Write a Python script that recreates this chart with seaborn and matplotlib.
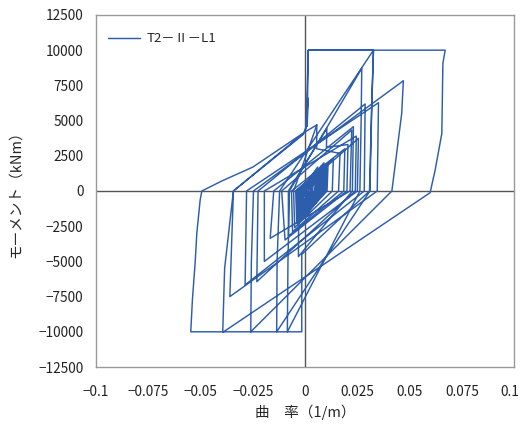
import numpy as np
import pandas as pd
import seaborn as sns
import matplotlib.pyplot as plt
import matplotlib.transforms as mtransforms

# curvature (1/m) and moment (kNm), read off the picture vertex by vertex
# dense small cycles round the origin
curv_small = [0.0, 0.002, 0.0017, -0.0005, -0.0004, 0.003, 0.0026, -0.001, -0.0008, 0.0035,
              0.003, -0.001, -0.0009, 0.004, 0.0036, -0.0015, -0.0012, 0.005, 0.0045, -0.0015,
              -0.0013, 0.0055, 0.005, -0.002, -0.0018, 0.006, 0.0055, -0.002, -0.0019, 0.0065,
              0.006, -0.0025, -0.0022, 0.007, 0.0066, -0.0025, -0.0023, 0.0075, 0.007, -0.003,
              -0.0027, 0.008, 0.0076, -0.003, -0.0028, 0.0085, 0.008, -0.0035, -0.0032, 0.009,
              0.0086, -0.0035, -0.0033, 0.0095, 0.009, -0.004, -0.0037, 0.010, 0.0096, -0.004,
              -0.0036, 0.0098, 0.0094, -0.0038, -0.0034, 0.0092, 0.0088, -0.0032, -0.003, 0.0088,
              0.0084, -0.003, -0.0028, 0.0102, 0.0097, -0.0036, -0.0033, 0.0075, 0.0071, -0.0025,
              -0.0022, 0.006, 0.0056, -0.002, -0.0018, 0.0085, 0.008, -0.001, -0.0008, 0.010,
              0.0096, -0.0025, -0.0022, 0.0078, 0.0074, -0.0035, -0.003, 0.0095, 0.009, -0.002,
              -0.0018, 0.007, 0.0065, 0.001, 0.0012, 0.0105, 0.010, 0.0, 0.0003, 0.009,
              0.0086, -0.003, -0.0027]
mom_small = [0, 400, 0, -400, 0, 600, 0, -700, 0, 800,
             0, -900, 0, 900, 0, -1000, 0, 1000, 0, -1100,
             0, 1100, 0, -1200, 0, 1200, 0, -1300, 0, 1300,
             0, -1400, 0, 1350, 0, -1500, 0, 1400, 0, -1550,
             0, 1500, 0, -1650, 0, 1550, 0, -1700, 0, 1650,
             0, -1800, 0, 1700, 0, -1850, 0, 1800, 0, -1950,
             0, 1600, 0, -1700, 0, 1750, 0, -2000, 0, 1300,
             0, -1400, 0, 1900, 0, -2100, 0, 1500, 0, -1600,
             0, 1700, 0, -1900, 0, 1900, 0, -1600, 0, 1500,
             0, -2000, 0, 1800, 0, -1300, 0, 1200, 0, -1000,
             0, 900, 0, -1500, 0, 1600, 0, -1800, 0, 2000,
             0, -2200, 0]

# medium cycles
curv_mid = [-0.0045, 0.011, 0.0105, -0.004, -0.0045, 0.0135, 0.013, -0.005, -0.0055,
            0.0056, 0.0055, 0.0167, 0.016, -0.006, -0.0065, 0.019, 0.0185, -0.008, -0.008,
            0.0104, 0.0102, 0.0205, 0.020, -0.0096, -0.0112, 0.0223, 0.0215, -0.0167, -0.015,
            0.0231, 0.0226, -0.0032, -0.0030, 0.0255, 0.0250, -0.0195, -0.0195,
            0.0245, 0.0240, -0.0231, -0.0225, 0.0287, 0.0283, -0.0287, -0.0280,
            0.0351, 0.0345, -0.036, -0.0343]
mom_mid = [0, 2000, 0, -2300, 0, 2300, 0, -2600, 0,
           4690, 3000, 2670, 0, -2900, 0, 3000, 0, -3200, 0,
           4450, 3100, 3300, 0, -3480, 0, 4330, 0, -3360, 0,
           4570, 0, -4660, 0, 3740, 0, -5000, 0,
           3900, 0, -6440, 0, 6180, 0, -6670, 0,
           6270, 0, -7500, 0]

# large cycles reaching the +-10000 plateaus
curv_big = [-0.001, 0.0005, 0.0014, 0.0010, 0.0015, 0.0327, 0.0319, 0.0308, -0.0016, -0.0016,
            -0.0085, -0.0082, -0.0075, 0.0271, 0.0268, 0.0262, -0.0085, -0.0136, -0.0134, -0.0122,
            0.0327, 0.0319, 0.031, -0.0136, -0.026, -0.0257, -0.0247, 0.047, 0.0462, 0.0415,
            -0.026, -0.0394, -0.0385, -0.0343, 0.0, 0.0005, 0.0015, 0.067, 0.0659, 0.0654,
            0.0622, 0.0598, -0.039, -0.0547, -0.0539, -0.0526, -0.0518, -0.0502, -0.0494,
            -0.040, -0.025, 0.0, 0.0056]
mom_big = [4000, 4550, 6600, 4600, 10000, 10000, 6460, 0, -4500, -10000,
           -10000, -5000, 0, 8710, 5000, 0, -10000, -10000, -5000, 0,
           10000, 6000, 0, -10000, -10000, -5000, 0, 7830, 5500, 0,
           -10000, -10000, -5500, 0, 4200, 4550, 10000, 10000, 9060, 4090,
           1490, -120, -10000, -10000, -7700, -5100, -3000, -640, 0,
           700, 1700, 4200, 4690]

curvature = curv_small + curv_mid + curv_big
moment = mom_small + mom_mid + mom_big

df = pd.DataFrame({'curvature': curvature, 'moment': moment, 'series': 'T2－Ⅱ－L1'})

sns.set_style('white')
plt.rcParams['font.family'] = ['Noto Sans CJK JP', 'DejaVu Sans']

fig = plt.figure(figsize=(5.22, 4.28), dpi=100)
ax = fig.add_axes([0.184, 0.1425, 0.801, 0.8225])

sns.lineplot(data=df, x='curvature', y='moment', hue='series', sort=False,
             estimator=None, palette=['#2d5eac'], linewidth=1.05, ax=ax)

ax.axhline(0, color='#555555', linewidth=1.0, zorder=0)
ax.axvline(0, color='#555555', linewidth=1.0, zorder=0)

ax.set_xlim(-0.1, 0.1)
ax.set_ylim(-12500, 12500)
xt = [-0.1, -0.075, -0.05, -0.025, 0, 0.025, 0.05, 0.075, 0.1]
yt = list(range(-12500, 12501, 2500))
ax.set_xticks(xt)
ax.set_xticklabels([('−' + f'{abs(v):g}') if v < 0 else f'{v:g}' for v in xt])
ax.set_yticks(yt)
ax.set_yticklabels([('−' + str(abs(v))) if v < 0 else str(v) for v in yt])
ax.tick_params(length=0, labelsize=9.8, colors='#222222')
ax.tick_params(axis='x', pad=13)
ax.tick_params(axis='y', pad=9)

# the last x label sits a little left of its tick so it stays inside the picture
last = ax.get_xticklabels()[-1]
last.set_transform(last.get_transform() + mtransforms.ScaledTranslation(-4 / 100, 0, fig.dpi_scale_trans))

for s in ax.spines.values():
    s.set_color('#999999')
    s.set_linewidth(1.0)

ax.set_xlabel('曲　率（1/m）', fontsize=10.5, labelpad=4)
ax.set_ylabel('モーメント（kNm）', fontsize=10.5, labelpad=11)

leg = ax.legend(loc='upper left', frameon=False, fontsize=9.5, handlelength=2.4,
                handletextpad=0.5, bbox_to_anchor=(0.0, 0.985))

fig.savefig('out.png', dpi=100)
